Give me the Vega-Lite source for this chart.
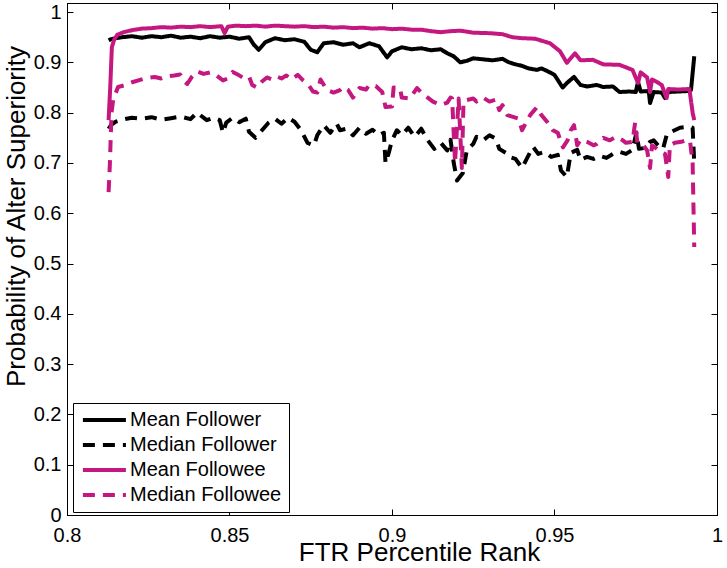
{
  "$schema": "https://vega.github.io/schema/vega-lite/v6.json",
  "width": 650,
  "height": 512,
  "autosize": "none",
  "padding": {"left": 67, "top": 3, "right": 10, "bottom": 53},
  "background": "white",
  "config": {
    "font": "Liberation Sans",
    "view": {"stroke": "black", "strokeWidth": 1},
    "axis": {
      "grid": false,
      "domainColor": "black",
      "tickColor": "black",
      "labelColor": "black",
      "titleColor": "black",
      "labelFont": "Liberation Sans",
      "titleFont": "Liberation Sans",
      "labelFontSize": 20,
      "titleFontSize": 26,
      "titleFontWeight": "normal",
      "tickSize": -6,
      "labelFlush": false,
      "labelOverlap": false
    },
    "legend": {
      "orient": "none",
      "legendX": 6,
      "legendY": 400,
      "title": null,
      "symbolType": "M-1.9,0H9.6",
      "symbolSize": 56,
      "symbolStrokeWidth": 4,
      "labelFont": "Liberation Sans",
      "labelFontSize": 20,
      "labelColor": "black",
      "labelOffset": 30,
      "padding": 7,
      "rowPadding": 5,
      "strokeColor": "black",
      "fillColor": "white",
      "cornerRadius": 0
    }
  },
  "data": {"values": [
{"series":"Mean Follower","x":0.8128,"y":0.944},{"series":"Mean Follower","x":0.8135,"y":0.946},{"series":"Mean Follower","x":0.815,"y":0.948},{"series":"Mean Follower","x":0.817,"y":0.95},{"series":"Mean Follower","x":0.82,"y":0.952},{"series":"Mean Follower","x":0.823,"y":0.949},{"series":"Mean Follower","x":0.826,"y":0.952},{"series":"Mean Follower","x":0.829,"y":0.95},{"series":"Mean Follower","x":0.832,"y":0.953},{"series":"Mean Follower","x":0.835,"y":0.949},{"series":"Mean Follower","x":0.838,"y":0.951},{"series":"Mean Follower","x":0.841,"y":0.948},{"series":"Mean Follower","x":0.844,"y":0.952},{"series":"Mean Follower","x":0.847,"y":0.949},{"series":"Mean Follower","x":0.85,"y":0.951},{"series":"Mean Follower","x":0.853,"y":0.947},{"series":"Mean Follower","x":0.856,"y":0.95},{"series":"Mean Follower","x":0.8575,"y":0.935},{"series":"Mean Follower","x":0.859,"y":0.925},{"series":"Mean Follower","x":0.861,"y":0.94},{"series":"Mean Follower","x":0.864,"y":0.948},{"series":"Mean Follower","x":0.867,"y":0.944},{"series":"Mean Follower","x":0.87,"y":0.946},{"series":"Mean Follower","x":0.873,"y":0.941},{"series":"Mean Follower","x":0.875,"y":0.925},{"series":"Mean Follower","x":0.877,"y":0.92},{"series":"Mean Follower","x":0.879,"y":0.938},{"series":"Mean Follower","x":0.882,"y":0.94},{"series":"Mean Follower","x":0.885,"y":0.935},{"series":"Mean Follower","x":0.888,"y":0.938},{"series":"Mean Follower","x":0.89,"y":0.93},{"series":"Mean Follower","x":0.893,"y":0.938},{"series":"Mean Follower","x":0.896,"y":0.932},{"series":"Mean Follower","x":0.8985,"y":0.91},{"series":"Mean Follower","x":0.9,"y":0.922},{"series":"Mean Follower","x":0.903,"y":0.93},{"series":"Mean Follower","x":0.906,"y":0.926},{"series":"Mean Follower","x":0.909,"y":0.928},{"series":"Mean Follower","x":0.912,"y":0.924},{"series":"Mean Follower","x":0.915,"y":0.926},{"series":"Mean Follower","x":0.917,"y":0.918},{"series":"Mean Follower","x":0.919,"y":0.912},{"series":"Mean Follower","x":0.921,"y":0.9},{"series":"Mean Follower","x":0.923,"y":0.903},{"series":"Mean Follower","x":0.925,"y":0.908},{"series":"Mean Follower","x":0.928,"y":0.906},{"series":"Mean Follower","x":0.931,"y":0.904},{"series":"Mean Follower","x":0.934,"y":0.907},{"series":"Mean Follower","x":0.936,"y":0.9},{"series":"Mean Follower","x":0.938,"y":0.896},{"series":"Mean Follower","x":0.94,"y":0.893},{"series":"Mean Follower","x":0.942,"y":0.888},{"series":"Mean Follower","x":0.9446,"y":0.885},{"series":"Mean Follower","x":0.946,"y":0.888},{"series":"Mean Follower","x":0.948,"y":0.882},{"series":"Mean Follower","x":0.95,"y":0.875},{"series":"Mean Follower","x":0.9525,"y":0.85},{"series":"Mean Follower","x":0.954,"y":0.86},{"series":"Mean Follower","x":0.956,"y":0.871},{"series":"Mean Follower","x":0.958,"y":0.855},{"series":"Mean Follower","x":0.96,"y":0.852},{"series":"Mean Follower","x":0.963,"y":0.855},{"series":"Mean Follower","x":0.965,"y":0.851},{"series":"Mean Follower","x":0.968,"y":0.852},{"series":"Mean Follower","x":0.97,"y":0.841},{"series":"Mean Follower","x":0.973,"y":0.842},{"series":"Mean Follower","x":0.975,"y":0.841},{"series":"Mean Follower","x":0.9757,"y":0.861},{"series":"Mean Follower","x":0.9765,"y":0.842},{"series":"Mean Follower","x":0.979,"y":0.843},{"series":"Mean Follower","x":0.9794,"y":0.819},{"series":"Mean Follower","x":0.9805,"y":0.841},{"series":"Mean Follower","x":0.983,"y":0.84},{"series":"Mean Follower","x":0.984,"y":0.829},{"series":"Mean Follower","x":0.985,"y":0.841},{"series":"Mean Follower","x":0.988,"y":0.842},{"series":"Mean Follower","x":0.991,"y":0.843},{"series":"Mean Follower","x":0.992,"y":0.845},{"series":"Mean Follower","x":0.993,"y":0.912},
{"series":"Median Follower","x":0.8128,"y":0.768},{"series":"Median Follower","x":0.8135,"y":0.775},{"series":"Median Follower","x":0.815,"y":0.782},{"series":"Median Follower","x":0.817,"y":0.786},{"series":"Median Follower","x":0.82,"y":0.79},{"series":"Median Follower","x":0.823,"y":0.788},{"series":"Median Follower","x":0.826,"y":0.791},{"series":"Median Follower","x":0.829,"y":0.786},{"series":"Median Follower","x":0.832,"y":0.789},{"series":"Median Follower","x":0.835,"y":0.792},{"series":"Median Follower","x":0.838,"y":0.787},{"series":"Median Follower","x":0.84,"y":0.8},{"series":"Median Follower","x":0.843,"y":0.785},{"series":"Median Follower","x":0.845,"y":0.79},{"series":"Median Follower","x":0.847,"y":0.785},{"series":"Median Follower","x":0.848,"y":0.76},{"series":"Median Follower","x":0.849,"y":0.78},{"series":"Median Follower","x":0.851,"y":0.79},{"series":"Median Follower","x":0.853,"y":0.781},{"series":"Median Follower","x":0.855,"y":0.788},{"series":"Median Follower","x":0.856,"y":0.762},{"series":"Median Follower","x":0.858,"y":0.75},{"series":"Median Follower","x":0.86,"y":0.765},{"series":"Median Follower","x":0.862,"y":0.78},{"series":"Median Follower","x":0.864,"y":0.788},{"series":"Median Follower","x":0.866,"y":0.778},{"series":"Median Follower","x":0.868,"y":0.79},{"series":"Median Follower","x":0.87,"y":0.782},{"series":"Median Follower","x":0.872,"y":0.765},{"series":"Median Follower","x":0.874,"y":0.74},{"series":"Median Follower","x":0.876,"y":0.735},{"series":"Median Follower","x":0.877,"y":0.755},{"series":"Median Follower","x":0.879,"y":0.775},{"series":"Median Follower","x":0.881,"y":0.76},{"series":"Median Follower","x":0.883,"y":0.778},{"series":"Median Follower","x":0.884,"y":0.765},{"series":"Median Follower","x":0.886,"y":0.768},{"series":"Median Follower","x":0.888,"y":0.755},{"series":"Median Follower","x":0.89,"y":0.77},{"series":"Median Follower","x":0.892,"y":0.758},{"series":"Median Follower","x":0.894,"y":0.766},{"series":"Median Follower","x":0.896,"y":0.755},{"series":"Median Follower","x":0.8975,"y":0.76},{"series":"Median Follower","x":0.898,"y":0.7},{"series":"Median Follower","x":0.899,"y":0.72},{"series":"Median Follower","x":0.9,"y":0.745},{"series":"Median Follower","x":0.9015,"y":0.765},{"series":"Median Follower","x":0.903,"y":0.755},{"series":"Median Follower","x":0.905,"y":0.77},{"series":"Median Follower","x":0.907,"y":0.752},{"series":"Median Follower","x":0.909,"y":0.768},{"series":"Median Follower","x":0.911,"y":0.745},{"series":"Median Follower","x":0.913,"y":0.728},{"series":"Median Follower","x":0.915,"y":0.74},{"series":"Median Follower","x":0.917,"y":0.725},{"series":"Median Follower","x":0.918,"y":0.746},{"series":"Median Follower","x":0.919,"y":0.7},{"series":"Median Follower","x":0.92,"y":0.665},{"series":"Median Follower","x":0.9218,"y":0.68},{"series":"Median Follower","x":0.923,"y":0.725},{"series":"Median Follower","x":0.925,"y":0.738},{"series":"Median Follower","x":0.926,"y":0.752},{"series":"Median Follower","x":0.928,"y":0.745},{"series":"Median Follower","x":0.93,"y":0.755},{"series":"Median Follower","x":0.932,"y":0.748},{"series":"Median Follower","x":0.933,"y":0.728},{"series":"Median Follower","x":0.935,"y":0.72},{"series":"Median Follower","x":0.936,"y":0.712},{"series":"Median Follower","x":0.938,"y":0.708},{"series":"Median Follower","x":0.94,"y":0.69},{"series":"Median Follower","x":0.942,"y":0.715},{"series":"Median Follower","x":0.9434,"y":0.732},{"series":"Median Follower","x":0.945,"y":0.718},{"series":"Median Follower","x":0.947,"y":0.722},{"series":"Median Follower","x":0.949,"y":0.712},{"series":"Median Follower","x":0.951,"y":0.716},{"series":"Median Follower","x":0.952,"y":0.685},{"series":"Median Follower","x":0.9538,"y":0.672},{"series":"Median Follower","x":0.955,"y":0.72},{"series":"Median Follower","x":0.957,"y":0.726},{"series":"Median Follower","x":0.958,"y":0.706},{"series":"Median Follower","x":0.96,"y":0.712},{"series":"Median Follower","x":0.962,"y":0.708},{"series":"Median Follower","x":0.964,"y":0.714},{"series":"Median Follower","x":0.966,"y":0.71},{"series":"Median Follower","x":0.968,"y":0.718},{"series":"Median Follower","x":0.97,"y":0.722},{"series":"Median Follower","x":0.972,"y":0.718},{"series":"Median Follower","x":0.974,"y":0.726},{"series":"Median Follower","x":0.9752,"y":0.76},{"series":"Median Follower","x":0.976,"y":0.728},{"series":"Median Follower","x":0.978,"y":0.73},{"series":"Median Follower","x":0.9794,"y":0.742},{"series":"Median Follower","x":0.9805,"y":0.745},{"series":"Median Follower","x":0.9825,"y":0.73},{"series":"Median Follower","x":0.9834,"y":0.728},{"series":"Median Follower","x":0.9846,"y":0.758},{"series":"Median Follower","x":0.986,"y":0.762},{"series":"Median Follower","x":0.9886,"y":0.77},{"series":"Median Follower","x":0.9915,"y":0.772},{"series":"Median Follower","x":0.9925,"y":0.77},{"series":"Median Follower","x":0.993,"y":0.7},
{"series":"Mean Followee","x":0.8128,"y":0.785},{"series":"Mean Followee","x":0.8133,"y":0.85},{"series":"Mean Followee","x":0.8138,"y":0.93},{"series":"Mean Followee","x":0.8145,"y":0.945},{"series":"Mean Followee","x":0.8155,"y":0.955},{"series":"Mean Followee","x":0.8175,"y":0.96},{"series":"Mean Followee","x":0.82,"y":0.964},{"series":"Mean Followee","x":0.823,"y":0.967},{"series":"Mean Followee","x":0.826,"y":0.968},{"series":"Mean Followee","x":0.829,"y":0.97},{"series":"Mean Followee","x":0.832,"y":0.969},{"series":"Mean Followee","x":0.835,"y":0.971},{"series":"Mean Followee","x":0.838,"y":0.97},{"series":"Mean Followee","x":0.841,"y":0.972},{"series":"Mean Followee","x":0.844,"y":0.97},{"series":"Mean Followee","x":0.8475,"y":0.972},{"series":"Mean Followee","x":0.8485,"y":0.958},{"series":"Mean Followee","x":0.8495,"y":0.971},{"series":"Mean Followee","x":0.852,"y":0.973},{"series":"Mean Followee","x":0.855,"y":0.972},{"series":"Mean Followee","x":0.858,"y":0.973},{"series":"Mean Followee","x":0.861,"y":0.971},{"series":"Mean Followee","x":0.864,"y":0.973},{"series":"Mean Followee","x":0.867,"y":0.972},{"series":"Mean Followee","x":0.87,"y":0.971},{"series":"Mean Followee","x":0.873,"y":0.972},{"series":"Mean Followee","x":0.876,"y":0.97},{"series":"Mean Followee","x":0.879,"y":0.971},{"series":"Mean Followee","x":0.882,"y":0.969},{"series":"Mean Followee","x":0.885,"y":0.97},{"series":"Mean Followee","x":0.888,"y":0.968},{"series":"Mean Followee","x":0.891,"y":0.969},{"series":"Mean Followee","x":0.894,"y":0.967},{"series":"Mean Followee","x":0.897,"y":0.968},{"series":"Mean Followee","x":0.9,"y":0.966},{"series":"Mean Followee","x":0.903,"y":0.967},{"series":"Mean Followee","x":0.906,"y":0.965},{"series":"Mean Followee","x":0.909,"y":0.965},{"series":"Mean Followee","x":0.912,"y":0.962},{"series":"Mean Followee","x":0.915,"y":0.96},{"series":"Mean Followee","x":0.918,"y":0.962},{"series":"Mean Followee","x":0.921,"y":0.963},{"series":"Mean Followee","x":0.925,"y":0.959},{"series":"Mean Followee","x":0.93,"y":0.958},{"series":"Mean Followee","x":0.934,"y":0.956},{"series":"Mean Followee","x":0.937,"y":0.95},{"series":"Mean Followee","x":0.94,"y":0.948},{"series":"Mean Followee","x":0.944,"y":0.947},{"series":"Mean Followee","x":0.9486,"y":0.938},{"series":"Mean Followee","x":0.9517,"y":0.922},{"series":"Mean Followee","x":0.9538,"y":0.899},{"series":"Mean Followee","x":0.9563,"y":0.918},{"series":"Mean Followee","x":0.958,"y":0.904},{"series":"Mean Followee","x":0.9618,"y":0.905},{"series":"Mean Followee","x":0.965,"y":0.896},{"series":"Mean Followee","x":0.97,"y":0.895},{"series":"Mean Followee","x":0.974,"y":0.885},{"series":"Mean Followee","x":0.9757,"y":0.859},{"series":"Mean Followee","x":0.9765,"y":0.88},{"series":"Mean Followee","x":0.9785,"y":0.87},{"series":"Mean Followee","x":0.9794,"y":0.841},{"series":"Mean Followee","x":0.98,"y":0.866},{"series":"Mean Followee","x":0.9815,"y":0.861},{"series":"Mean Followee","x":0.983,"y":0.855},{"series":"Mean Followee","x":0.9845,"y":0.829},{"series":"Mean Followee","x":0.985,"y":0.847},{"series":"Mean Followee","x":0.988,"y":0.846},{"series":"Mean Followee","x":0.9915,"y":0.847},{"series":"Mean Followee","x":0.9925,"y":0.8},{"series":"Mean Followee","x":0.993,"y":0.785},
{"series":"Median Followee","x":0.8128,"y":0.642},{"series":"Median Followee","x":0.8132,"y":0.7},{"series":"Median Followee","x":0.8137,"y":0.8},{"series":"Median Followee","x":0.8142,"y":0.825},{"series":"Median Followee","x":0.8157,"y":0.851},{"series":"Median Followee","x":0.818,"y":0.855},{"series":"Median Followee","x":0.8203,"y":0.861},{"series":"Median Followee","x":0.823,"y":0.866},{"series":"Median Followee","x":0.8246,"y":0.869},{"series":"Median Followee","x":0.827,"y":0.871},{"series":"Median Followee","x":0.829,"y":0.868},{"series":"Median Followee","x":0.8308,"y":0.872},{"series":"Median Followee","x":0.833,"y":0.874},{"series":"Median Followee","x":0.8348,"y":0.876},{"series":"Median Followee","x":0.836,"y":0.862},{"series":"Median Followee","x":0.837,"y":0.857},{"series":"Median Followee","x":0.8385,"y":0.872},{"series":"Median Followee","x":0.84,"y":0.882},{"series":"Median Followee","x":0.842,"y":0.877},{"series":"Median Followee","x":0.844,"y":0.88},{"series":"Median Followee","x":0.846,"y":0.874},{"series":"Median Followee","x":0.848,"y":0.864},{"series":"Median Followee","x":0.8495,"y":0.868},{"series":"Median Followee","x":0.851,"y":0.881},{"series":"Median Followee","x":0.8525,"y":0.876},{"series":"Median Followee","x":0.854,"y":0.87},{"series":"Median Followee","x":0.856,"y":0.872},{"series":"Median Followee","x":0.857,"y":0.855},{"series":"Median Followee","x":0.8585,"y":0.85},{"series":"Median Followee","x":0.86,"y":0.862},{"series":"Median Followee","x":0.8615,"y":0.87},{"series":"Median Followee","x":0.863,"y":0.866},{"series":"Median Followee","x":0.8645,"y":0.872},{"series":"Median Followee","x":0.866,"y":0.868},{"series":"Median Followee","x":0.8675,"y":0.874},{"series":"Median Followee","x":0.869,"y":0.866},{"series":"Median Followee","x":0.871,"y":0.875},{"series":"Median Followee","x":0.8725,"y":0.865},{"series":"Median Followee","x":0.874,"y":0.858},{"series":"Median Followee","x":0.8757,"y":0.842},{"series":"Median Followee","x":0.877,"y":0.84},{"series":"Median Followee","x":0.878,"y":0.866},{"series":"Median Followee","x":0.88,"y":0.845},{"series":"Median Followee","x":0.882,"y":0.84},{"series":"Median Followee","x":0.884,"y":0.845},{"series":"Median Followee","x":0.885,"y":0.851},{"series":"Median Followee","x":0.8865,"y":0.845},{"series":"Median Followee","x":0.888,"y":0.83},{"series":"Median Followee","x":0.889,"y":0.84},{"series":"Median Followee","x":0.89,"y":0.849},{"series":"Median Followee","x":0.892,"y":0.846},{"series":"Median Followee","x":0.893,"y":0.855},{"series":"Median Followee","x":0.895,"y":0.853},{"series":"Median Followee","x":0.897,"y":0.841},{"series":"Median Followee","x":0.898,"y":0.811},{"series":"Median Followee","x":0.9,"y":0.812},{"series":"Median Followee","x":0.9005,"y":0.85},{"series":"Median Followee","x":0.9025,"y":0.848},{"series":"Median Followee","x":0.903,"y":0.83},{"series":"Median Followee","x":0.9055,"y":0.828},{"series":"Median Followee","x":0.9077,"y":0.849},{"series":"Median Followee","x":0.909,"y":0.84},{"series":"Median Followee","x":0.911,"y":0.83},{"series":"Median Followee","x":0.9126,"y":0.822},{"series":"Median Followee","x":0.915,"y":0.815},{"series":"Median Followee","x":0.917,"y":0.82},{"series":"Median Followee","x":0.918,"y":0.83},{"series":"Median Followee","x":0.9185,"y":0.828},{"series":"Median Followee","x":0.9194,"y":0.7},{"series":"Median Followee","x":0.92,"y":0.77},{"series":"Median Followee","x":0.9205,"y":0.828},{"series":"Median Followee","x":0.9215,"y":0.69},{"series":"Median Followee","x":0.922,"y":0.822},{"series":"Median Followee","x":0.923,"y":0.825},{"series":"Median Followee","x":0.925,"y":0.828},{"series":"Median Followee","x":0.926,"y":0.822},{"series":"Median Followee","x":0.928,"y":0.83},{"series":"Median Followee","x":0.93,"y":0.822},{"series":"Median Followee","x":0.932,"y":0.826},{"series":"Median Followee","x":0.933,"y":0.805},{"series":"Median Followee","x":0.934,"y":0.815},{"series":"Median Followee","x":0.9355,"y":0.795},{"series":"Median Followee","x":0.937,"y":0.792},{"series":"Median Followee","x":0.939,"y":0.788},{"series":"Median Followee","x":0.94,"y":0.765},{"series":"Median Followee","x":0.9425,"y":0.795},{"series":"Median Followee","x":0.9446,"y":0.811},{"series":"Median Followee","x":0.946,"y":0.795},{"series":"Median Followee","x":0.9477,"y":0.782},{"series":"Median Followee","x":0.9495,"y":0.765},{"series":"Median Followee","x":0.951,"y":0.76},{"series":"Median Followee","x":0.9526,"y":0.731},{"series":"Median Followee","x":0.954,"y":0.745},{"series":"Median Followee","x":0.955,"y":0.765},{"series":"Median Followee","x":0.956,"y":0.775},{"series":"Median Followee","x":0.957,"y":0.735},{"series":"Median Followee","x":0.958,"y":0.746},{"series":"Median Followee","x":0.96,"y":0.742},{"series":"Median Followee","x":0.962,"y":0.735},{"series":"Median Followee","x":0.963,"y":0.738},{"series":"Median Followee","x":0.965,"y":0.75},{"series":"Median Followee","x":0.967,"y":0.745},{"series":"Median Followee","x":0.969,"y":0.752},{"series":"Median Followee","x":0.971,"y":0.745},{"series":"Median Followee","x":0.972,"y":0.74},{"series":"Median Followee","x":0.974,"y":0.742},{"series":"Median Followee","x":0.9748,"y":0.78},{"series":"Median Followee","x":0.9755,"y":0.74},{"series":"Median Followee","x":0.977,"y":0.738},{"series":"Median Followee","x":0.9785,"y":0.725},{"series":"Median Followee","x":0.9794,"y":0.69},{"series":"Median Followee","x":0.98,"y":0.735},{"series":"Median Followee","x":0.9815,"y":0.728},{"series":"Median Followee","x":0.9825,"y":0.722},{"series":"Median Followee","x":0.984,"y":0.718},{"series":"Median Followee","x":0.985,"y":0.672},{"series":"Median Followee","x":0.9855,"y":0.735},{"series":"Median Followee","x":0.987,"y":0.74},{"series":"Median Followee","x":0.989,"y":0.742},{"series":"Median Followee","x":0.9908,"y":0.746},{"series":"Median Followee","x":0.9917,"y":0.744},{"series":"Median Followee","x":0.9925,"y":0.7},{"series":"Median Followee","x":0.993,"y":0.533}
  ]},
  "layer": [
    {
      "mark": {"type": "line", "strokeWidth": 4, "strokeJoin": "round", "strokeCap": "butt", "clip": true},
      "encoding": {
        "x": {
          "field": "x", "type": "quantitative",
          "scale": {"domain": [0.8, 1], "nice": false, "zero": false},
          "axis": {
            "orient": "bottom",
            "values": [0.8, 0.85, 0.9, 0.95, 1],
            "format": ".2~f",
            "title": "FTR Percentile Rank",
            "labelPadding": 16,
            "titleX": 352,
            "titleY": 45,
            "titleAlign": "center",
            "titleBaseline": "alphabetic"
          }
        },
        "y": {
          "field": "y", "type": "quantitative",
          "scale": {"domain": [0, 1.018], "nice": false, "zero": true},
          "axis": {
            "orient": "left",
            "values": [0, 0.1, 0.2, 0.3, 0.4, 0.5, 0.6, 0.7, 0.8, 0.9, 1],
            "format": ".1~f",
            "title": "Probability of Alter Superiority",
            "labelPadding": 12,
            "titleX": -43,
            "titleY": 213,
            "titleAngle": -90,
            "titleAlign": "center",
            "titleBaseline": "alphabetic"
          }
        },
        "color": {
          "field": "series", "type": "nominal",
          "scale": {"domain": ["Mean Follower", "Median Follower", "Mean Followee", "Median Followee"], "range": ["#000000", "#000000", "#C4177F", "#C4177F"]}
        },
        "strokeDash": {
          "field": "series", "type": "nominal",
          "scale": {"domain": ["Mean Follower", "Median Follower", "Mean Followee", "Median Followee"], "range": [[1, 0], [12, 8], [1, 0], [12, 8]]}
        }
      }
    },
    {
      "mark": {"type": "line", "opacity": 0},
      "encoding": {
        "x": {"field": "x", "type": "quantitative", "axis": {"orient": "top", "values": [0.8, 0.85, 0.9, 0.95, 1], "labels": false, "title": null}},
        "y": {"field": "y", "type": "quantitative", "axis": {"orient": "right", "values": [0, 0.1, 0.2, 0.3, 0.4, 0.5, 0.6, 0.7, 0.8, 0.9, 1], "labels": false, "title": null}}
      }
    }
  ],
  "resolve": {"axis": {"x": "independent", "y": "independent"}}
}
